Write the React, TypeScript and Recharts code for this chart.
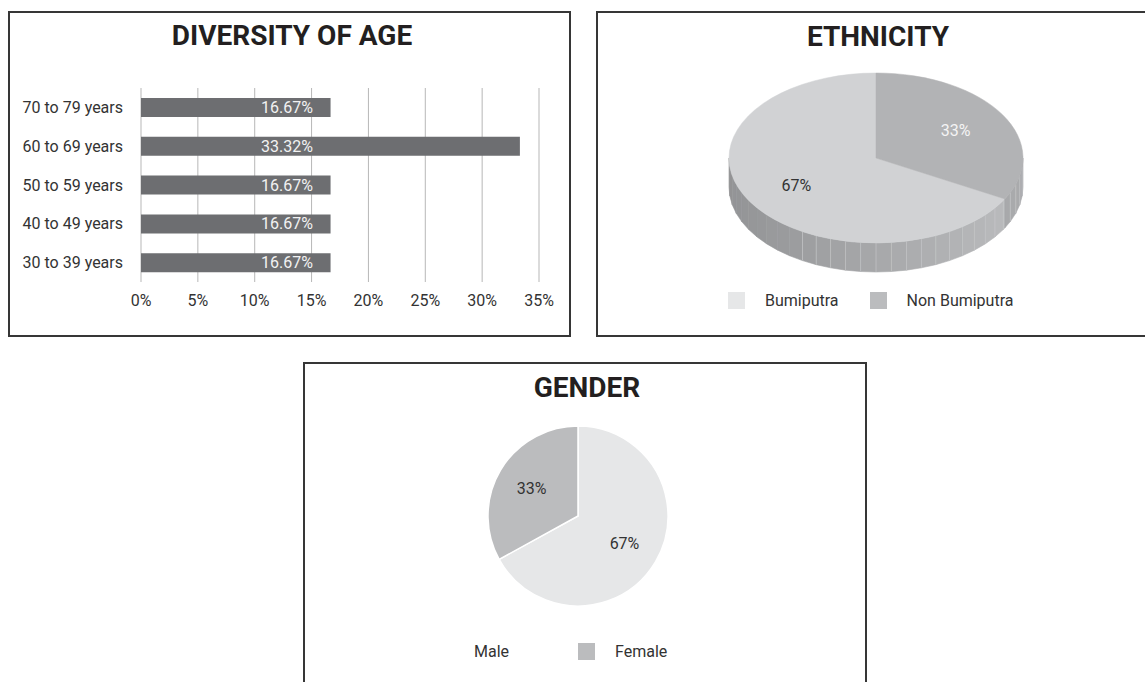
import React from 'react';
import {
  BarChart,
  Bar,
  XAxis,
  YAxis,
  CartesianGrid,
  LabelList,
  PieChart,
  Pie,
  Cell,
} from 'recharts';

// diversity of age
const ageGroups = ['70 to 79 years', '60 to 69 years', '50 to 59 years', '40 to 49 years', '30 to 39 years'];
const agePercent = [16.67, 33.32, 16.67, 16.67, 16.67];
const ageTicks = [0, 5, 10, 15, 20, 25, 30, 35];

// ethnicity
const ethnicGroups = ['Bumiputra', 'Non Bumiputra'];
const ethnicPercent = [67, 33];

// gender
const genders = ['Male', 'Female'];
const genderPercent = [67, 33];

const ageData = ageGroups.map((age, i) => ({ age, value: agePercent[i] }));
const ethnicData = ethnicGroups.map((name, i) => ({ name, value: ethnicPercent[i] }));
const genderData = genders.map((name, i) => ({ name, value: genderPercent[i] }));

const FONT = 'Roboto, "Noto Sans", sans-serif';
const TEXT = '#333333';
const BORDER = '2px solid #363636';
const NO_MARGIN = { top: 0, right: 0, bottom: 0, left: 0 };

const ethnicTop = ['#d1d2d4', '#b2b3b5'];
const ethnicSwatch = ['#e6e7e8', '#bbbcbe'];
const ethnicLabel = ['#333333', '#f4f4f4'];
const genderFill = ['#e6e7e8', '#bbbcbe'];
const genderSwatch = ['transparent', '#bbbcbe'];

// 3d pie geometry
const RX = 147;
const RY = 85;
const DEPTH = 29;
const STEP = 6;
const RAD = Math.PI / 180;

const sideShade = (a: number, idx: number) => {
  const c = Math.cos(a * RAD);
  const v = idx === 0 ? Math.round(0xa7 + 0x14 * c) : Math.round(0xa2 + 0x07 * c);
  return `rgb(${v},${v + 1},${v + 3})`;
};

const Pie3DSlice = (props: any) => {
  const { cx, cy, startAngle, endAngle, index, value } = props;
  const s = Math.min(startAngle, endAngle);
  const e = Math.max(startAngle, endAngle);
  const pt = (a: number, dy = 0) => [cx + RX * Math.cos(a * RAD), cy - RY * Math.sin(a * RAD) + dy];

  const angles = [s];
  for (let a = Math.ceil(s / STEP) * STEP; a < e; a += STEP) if (a > s) angles.push(a);
  angles.push(e);

  const facets: React.ReactNode[] = [];
  const lines: React.ReactNode[] = [];
  for (let i = 0; i < angles.length - 1; i++) {
    const a1 = angles[i];
    const a2 = angles[i + 1];
    const mid = (a1 + a2) / 2;
    if (Math.sin(mid * RAD) >= 0) continue;
    const p1 = pt(a1);
    const p2 = pt(a2);
    const p3 = pt(a2, DEPTH);
    const p4 = pt(a1, DEPTH);
    const col = sideShade(mid, index);
    facets.push(
      <polygon
        key={`f${i}`}
        points={`${p1.join(',')} ${p2.join(',')} ${p3.join(',')} ${p4.join(',')}`}
        fill={col}
        stroke={col}
        strokeWidth={0.6}
      />
    );
    if (i > 0 && Math.cos(a1 * RAD) > -0.55) {
      lines.push(
        <line key={`l${i}`} x1={p1[0]} y1={p1[1]} x2={p4[0]} y2={p4[1]} stroke="#c4c5c7" strokeWidth={0.7} />
      );
    }
  }

  const ps = pt(s);
  const pe = pt(e);
  const large = e - s > 180 ? 1 : 0;
  const top = `M${cx},${cy} L${ps[0]},${ps[1]} A${RX},${RY} 0 ${large} 0 ${pe[0]},${pe[1]} Z`;
  const m = (s + e) / 2;
  const lx = cx + 0.63 * RX * Math.cos(m * RAD);
  const ly = cy - 0.63 * RY * Math.sin(m * RAD);

  return (
    <g>
      {facets}
      {lines}
      <path d={top} fill={ethnicTop[index]} stroke={ethnicTop[index]} strokeWidth={0.5} />
      <text x={lx} y={ly} textAnchor="middle" dominantBaseline="central" fontSize={16} fill={ethnicLabel[index]}>
        {`${value}%`}
      </text>
    </g>
  );
};

const GenderLabel = (props: any) => {
  const { cx, cy, midAngle, outerRadius, value } = props;
  const r = outerRadius * 0.6;
  const x = cx + r * Math.cos(-midAngle * RAD);
  const y = cy + r * Math.sin(-midAngle * RAD);
  return (
    <text x={x} y={y} textAnchor="middle" dominantBaseline="central" fontSize={16} fill={TEXT}>
      {`${value}%`}
    </text>
  );
};

const BarValueLabel = (props: any) => {
  const { x, y, height, value } = props;
  return (
    <text x={x + 146} y={y + height / 2} textAnchor="middle" dominantBaseline="central" fontSize={16} fill="#f2f2f2">
      {`${value.toFixed(2)}%`}
    </text>
  );
};

const LegendRow = ({ names, colors, left, top, gapAfter }: any) => (
  <div style={{ position: 'absolute', left, top, display: 'flex', alignItems: 'center', fontSize: 16, color: TEXT }}>
    {names.map((n: string, i: number) => (
      <div key={n} style={{ display: 'flex', alignItems: 'center', marginRight: gapAfter }}>
        <span style={{ width: 17, height: 17, background: colors[i], display: 'inline-block', marginRight: i === 0 && colors[i] === 'transparent' ? 16 : 20 }} />
        <span>{n}</span>
      </div>
    ))}
  </div>
);

const Title = ({ text, center, top }: any) => (
  <div
    style={{
      position: 'absolute',
      left: center - 200,
      top,
      width: 400,
      textAlign: 'center',
      fontSize: 28,
      lineHeight: '28px',
      fontWeight: 700,
      color: '#231f20',
    }}
  >
    {text}
  </div>
);

const App: React.FC = () => {
  return (
    <div style={{ position: 'fixed', left: 0, top: 0, width: 1145, height: 682, background: '#fff', fontFamily: FONT, overflow: 'hidden' }}>
      {/* panel borders */}
      <div style={{ position: 'absolute', left: 8, top: 11, width: 563, height: 326, border: BORDER, boxSizing: 'border-box' }} />
      <div style={{ position: 'absolute', left: 596, top: 11, width: 560, height: 326, border: BORDER, boxSizing: 'border-box' }} />
      <div style={{ position: 'absolute', left: 303, top: 362, width: 564, height: 340, border: BORDER, boxSizing: 'border-box' }} />

      <Title text="DIVERSITY OF AGE" center={292} top={22} />
      <Title text="ETHNICITY" center={878} top={23} />
      <Title text="GENDER" center={587} top={374} />

      <div style={{ position: 'absolute', left: 11, top: 14 }}>
        <BarChart width={557} height={320} data={ageData} layout="vertical" margin={{ top: 74, right: 29, left: 0, bottom: 22 }}>
          <CartesianGrid horizontal={false} stroke="#b7b7b7" />
          <XAxis
            type="number"
            domain={[0, 35]}
            ticks={ageTicks}
            tickFormatter={(v) => `${v}%`}
            axisLine={false}
            tickLine={false}
            tickMargin={7}
            tick={{ fill: TEXT, fontSize: 16 }}
          />
          <YAxis
            type="category"
            dataKey="age"
            width={130}
            axisLine={false}
            tickLine={false}
            tickMargin={12}
            tick={{ fill: TEXT, fontSize: 16 }}
          />
          <Bar dataKey="value" fill="#6d6e71" barSize={19} isAnimationActive={false}>
            <LabelList dataKey="value" content={BarValueLabel} />
          </Bar>
        </BarChart>
      </div>

      <div style={{ position: 'absolute', left: 599, top: 14 }}>
        <PieChart width={544} height={320} margin={NO_MARGIN}>
          <Pie
            data={ethnicData}
            dataKey="value"
            nameKey="name"
            cx={277}
            cy={144}
            outerRadius={RX}
            startAngle={90}
            endAngle={450}
            stroke="none"
            label={Pie3DSlice}
            labelLine={false}
            isAnimationActive={false}
          >
            {ethnicData.map((d) => (
              <Cell key={d.name} fill="transparent" stroke="none" />
            ))}
          </Pie>
        </PieChart>
      </div>
      <LegendRow names={ethnicGroups} colors={ethnicSwatch} left={728} top={291} gapAfter={31} />

      <div style={{ position: 'absolute', left: 306, top: 365 }}>
        <PieChart width={558} height={317} margin={NO_MARGIN}>
          <Pie
            data={genderData}
            dataKey="value"
            nameKey="name"
            cx={272}
            cy={151}
            outerRadius={90}
            startAngle={90}
            endAngle={-270}
            stroke="#ffffff"
            strokeWidth={1.5}
            label={GenderLabel}
            labelLine={false}
            isAnimationActive={false}
          >
            {genderData.map((d, i) => (
              <Cell key={d.name} fill={genderFill[i]} />
            ))}
          </Pie>
        </PieChart>
      </div>
      <LegendRow names={genders} colors={genderSwatch} left={441} top={642} gapAfter={69} />
    </div>
  );
};

export default App;
